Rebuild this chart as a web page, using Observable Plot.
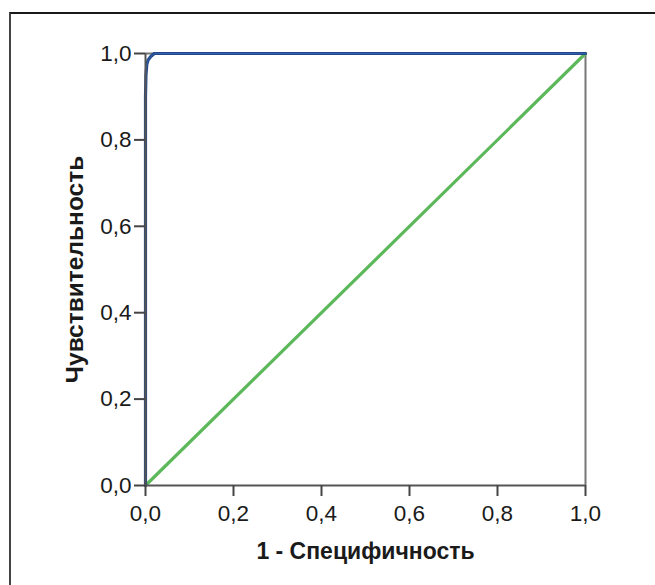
<!DOCTYPE html>
<html><head><meta charset="utf-8">
<script src="https://cdn.jsdelivr.net/npm/d3@7"></script>
<script src="https://cdn.jsdelivr.net/npm/@observablehq/plot@0.6"></script>
<style>
html,body{margin:0;padding:0;background:#fff;}
#wrap{position:relative;width:655px;height:585px;overflow:hidden;}
#border{position:absolute;left:9px;top:12px;width:700px;height:700px;border-top:2px solid #1a1a1a;border-left:2px solid #444;}
#chart{position:absolute;left:0;top:0;}
</style></head>
<body><div id="wrap"><div id="border"></div><div id="chart"></div></div>
<script>
const rocFpr = [0, 0, 0.001, 0.003, 0.006, 0.012, 0.02, 1];
const rocTpr = [0, 0.90, 0.95, 0.975, 0.985, 0.993, 1, 1];
const refX = [0, 1];
const refY = [0, 1];
const ticks = [0, 0.2, 0.4, 0.6, 0.8, 1.0];
const xTitle = "1 - Специфичность";
const yTitle = "Чувствительность";

const roc = rocFpr.map((x, i) => ({x, y: rocTpr[i]}));
const ref = refX.map((x, i) => ({x, y: refY[i]}));
const fmt = d => d.toFixed(1).replace(".", ",");

const chart = Plot.plot({
  width: 655, height: 585,
  marginLeft: 145, marginRight: 70, marginTop: 53, marginBottom: 100,
  style: {fontFamily: "'Liberation Sans', Arial, sans-serif", fontSize: "22px", color: "#1a1a1a", background: "transparent"},
  x: {domain: [0, 1], ticks, tickFormat: fmt, label: null},
  y: {domain: [0, 1], ticks, tickFormat: fmt, label: null},
  marks: [
    Plot.ruleX([1], {stroke: "#777", strokeWidth: 2}),
    Plot.ruleY([1], {stroke: "#777", strokeWidth: 2}),
    Plot.line(ref, {x: "x", y: "y", stroke: "#5cb85a", strokeWidth: 3.2}),
    Plot.line(roc, {x: "x", y: "y", stroke: "#23478a", strokeWidth: 3.2, curve: "linear"}),
    Plot.line(roc, {x: "x", y: "y", stroke: "#3a73c4", strokeWidth: 1, strokeOpacity: 0.6}),
    Plot.ruleX([0], {stroke: "#555", strokeWidth: 2}),
    Plot.ruleY([0], {stroke: "#555", strokeWidth: 2}),
    Plot.axisX({ticks, tickFormat: fmt, tickSize: 11, tickPadding: 9, stroke: "#444", strokeWidth: 2, fontSize: 22.5, fill: "#1a1a1a", label: null}),
    Plot.axisY({ticks, tickFormat: fmt, tickSize: 11, tickPadding: 3, stroke: "#444", strokeWidth: 2, fontSize: 22.5, fill: "#1a1a1a", label: null}),
    Plot.text([xTitle], {frameAnchor: "bottom", lineAnchor: "middle", textAnchor: "middle", dy: 66, fontWeight: "bold", fontSize: 23, fill: "#1a1a1a"}),
    Plot.text([yTitle], {frameAnchor: "left", lineAnchor: "middle", textAnchor: "middle", dx: -70, rotate: -90, fontWeight: "bold", fontSize: 24.5, fill: "#1a1a1a"})
  ]
});
document.getElementById("chart").appendChild(chart);
</script></body></html>
